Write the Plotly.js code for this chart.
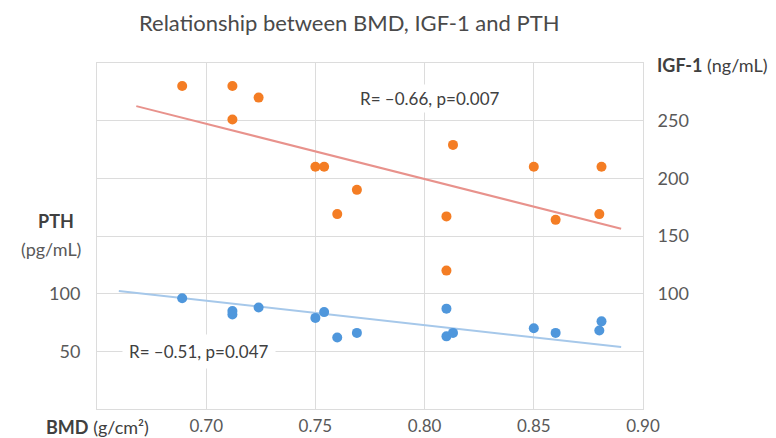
<!DOCTYPE html>
<html>
<head>
<meta charset="utf-8">
<script src="https://cdn.plot.ly/plotly-3.0.1.min.js"></script>
<style>html,body{margin:0;padding:0;background:#fff;}#chart{width:776px;height:438px;}</style>
</head>
<body>
<div id="chart"></div>
<script>
// BMD (g/cm²) per subject
const bmd = [0.689, 0.712, 0.712, 0.724, 0.750, 0.754, 0.760, 0.769, 0.810, 0.810, 0.813, 0.850, 0.860, 0.880, 0.881];
// IGF-1 (ng/mL)
const igf1 = [280, 280, 251, 270, 210, 210, 169, 190, 167, 120, 229, 210, 164, 169, 210];
// PTH (pg/mL)
const pth = [96, 82, 85, 88, 79, 84, 62, 66, 87, 63, 66, 70, 66, 68, 76];
// Trendline end points
const igfTrendX = [0.668, 0.890];
const igfTrendY = [262.6, 156.3];
const pthTrendX = [0.660, 0.890];
const pthTrendY = [102.3, 53.7];
// Tick labels
const xTicks = [0.70, 0.75, 0.80, 0.85, 0.90];
const xTickText = ["0.70", "0.75", "0.80", "0.85", "0.90"];
const yLeftTicks = [50, 100];
const yRightTicks = [100, 150, 200, 250];
const igfStat = "R= –0.66, p=0.007";
const pthStat = "R= –0.51, p=0.047";

const W = 776, H = 438, L = 97, R = 643, T = 63, B = 409;
const px = x => (x - L) / (R - L);
const py = y => (B - y) / (B - T);

const FONT = "Lato, 'Open Sans', sans-serif";
const TXT = "#595959";
const GRID = "#dcdcdc";

const traces = [
  {x: igfTrendX, y: igfTrendY, yaxis: "y2", mode: "lines", line: {color: "#e8928c", width: 2}, hoverinfo: "skip"},
  {x: pthTrendX, y: pthTrendY, mode: "lines", line: {color: "#a6c8ea", width: 2}, hoverinfo: "skip"},
  {x: bmd, y: igf1, yaxis: "y2", mode: "markers", marker: {color: "#f47d24", size: 10}},
  {x: bmd, y: pth, mode: "markers", marker: {color: "#4f97dc", size: 10}}
];

const layout = {
  width: W, height: H,
  margin: {l: L, r: W - R, t: T, b: H - B, pad: 0},
  paper_bgcolor: "#fff", plot_bgcolor: "#fff",
  showlegend: false,
  font: {family: FONT, color: TXT, size: 18},
  title: {text: "Relationship between BMD, IGF-1 and PTH", font: {family: FONT, size: 22, color: "#4a4a4a"},
          x: 358.5 / W, xanchor: "center", xref: "paper", y: 1 - 23 / H, yanchor: "middle", yref: "container"},
  xaxis: {range: [0.65, 0.90], tickvals: xTicks, ticktext: xTickText, showgrid: true, gridcolor: GRID,
          showline: true, mirror: true, linecolor: GRID, linewidth: 1, zeroline: false,
          ticks: "outside", ticklen: 2, tickcolor: "rgba(0,0,0,0)", tickfont: {family: FONT, size: 17, color: TXT}},
  yaxis: {range: [0, 300], tickvals: yLeftTicks, showgrid: true, gridcolor: GRID,
          minor: {dtick: 50, showgrid: true, gridcolor: GRID, ticks: ""},
          showline: true, mirror: true, linecolor: GRID, linewidth: 1, zeroline: false,
          ticks: "outside", ticklen: 12, tickcolor: "rgba(0,0,0,0)", tickfont: {family: FONT, size: 18, color: TXT}},
  yaxis2: {range: [0, 300], overlaying: "y", side: "right", tickvals: yRightTicks, showgrid: false, zeroline: false,
           showline: false, ticks: "outside", ticklen: 10, tickcolor: "rgba(0,0,0,0)", tickfont: {family: FONT, size: 18, color: TXT}},
  annotations: [
    {text: igfStat, xref: "paper", yref: "paper", x: px(430), y: py(99), xanchor: "center", yanchor: "middle",
     showarrow: false, bgcolor: "#fff", borderpad: 3, font: {family: FONT, size: 17, color: "#404040"}},
    {text: pthStat, xref: "paper", yref: "paper", x: px(199), y: py(351), xanchor: "center", yanchor: "middle",
     showarrow: false, bgcolor: "#fff", borderpad: 6, font: {family: FONT, size: 17, color: "#404040"}},
    {text: "<b>PTH</b>", xref: "paper", yref: "paper", x: px(76), y: py(221), xanchor: "right", yanchor: "middle",
     showarrow: false, font: {family: FONT, size: 18, color: "#404040"}},
    {text: "(pg/mL)", xref: "paper", yref: "paper", x: px(83), y: py(249), xanchor: "right", yanchor: "middle",
     showarrow: false, font: {family: FONT, size: 18, color: TXT}},
    {text: "<b>IGF-1</b> (ng/mL)", xref: "paper", yref: "paper", x: px(655), y: py(65), xanchor: "left", yanchor: "middle",
     showarrow: false, font: {family: FONT, size: 18, color: "#404040"}},
    {text: "<b>BMD</b> (g/cm²)", xref: "paper", yref: "paper", x: px(44), y: py(427), xanchor: "left", yanchor: "middle",
     showarrow: false, font: {family: FONT, size: 18, color: "#404040"}}
  ]
};

Plotly.newPlot("chart", traces, layout, {displayModeBar: false, staticPlot: true});
</script>
</body>
</html>
